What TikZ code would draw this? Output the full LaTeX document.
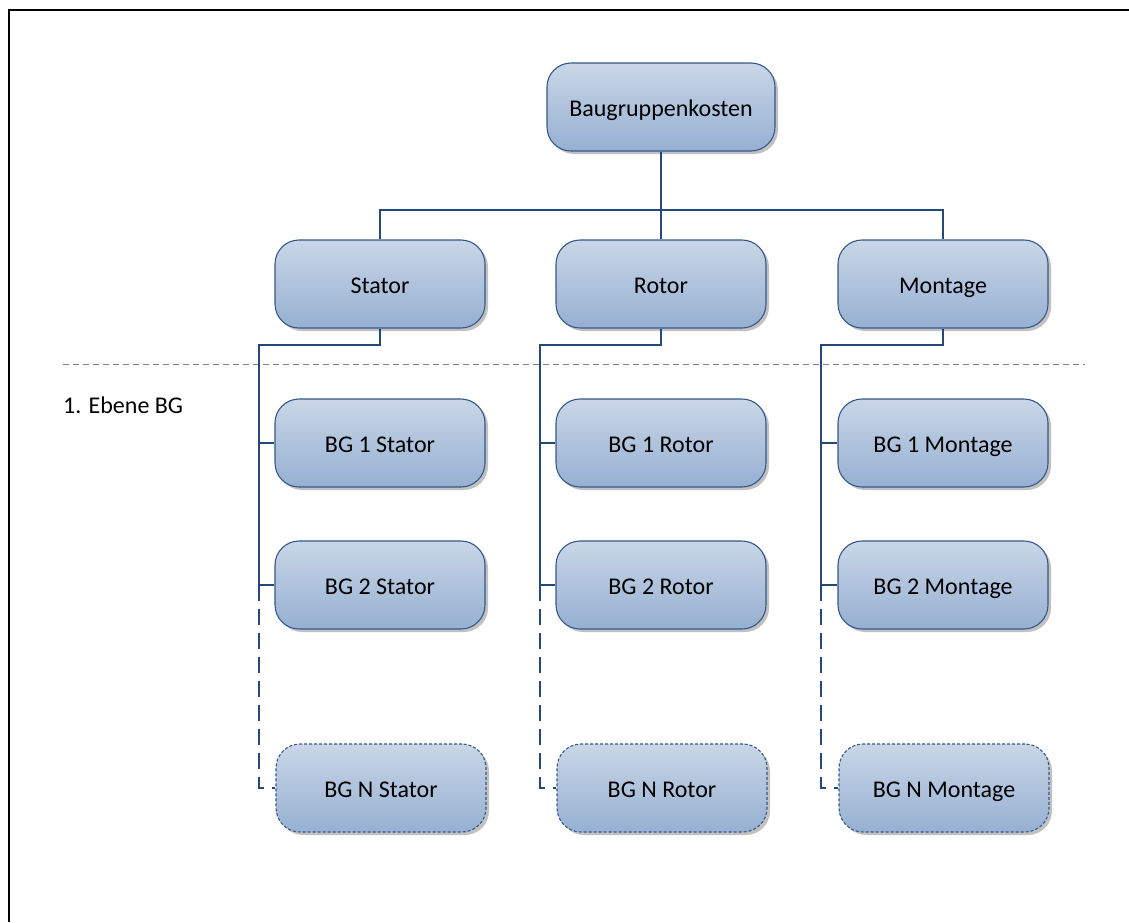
\documentclass[tikz,border=0pt]{standalone}
\usepackage{fontspec}
\setmainfont{Carlito}
\usetikzlibrary{shadows}
\definecolor{boxtop}{RGB}{201,214,231}
\definecolor{boxbot}{RGB}{150,176,210}
\definecolor{boxline}{RGB}{52,88,136}
\definecolor{conn}{RGB}{38,72,120}
\tikzset{
  box/.style={rectangle, rounded corners=24pt, draw=boxline, line width=1.1pt,
    top color=boxtop, bottom color=boxbot, minimum width=210pt, minimum height=88pt,
    font=\fontsize{24}{28}\selectfont, text=black, text height=20pt, text depth=2pt,
    drop shadow={shadow xshift=3pt, shadow yshift=-3pt, fill=black!30, opacity=0.8}},
  dbox/.style={box, dash pattern=on 3pt off 2pt},
  link/.style={draw=conn, line width=1.5pt},
  dlink/.style={link, dash pattern=on 16pt off 8pt},
}
\begin{document}
\begin{tikzpicture}[x=1pt,y=-1pt]
\useasboundingbox (0,0) rectangle (1129,922);
\draw[line width=2pt] (9,922) -- (9,10) -- (1129,10);
\draw[gray, line width=1pt, dash pattern=on 6pt off 4pt] (63,364) -- (1085,364);
\node[anchor=west, font=\fontsize{24}{28}\selectfont, inner sep=0pt] (lvl) at (63,405) {1. Ebene BG};

\node[box, minimum width=228pt] (top) at (661,107) {Baugruppenkosten};
\coordinate (tj) at (661,210);

\node[box] (s) at (380,284) {Stator};
\node[box] (r) at (661,284) {Rotor};
\node[box] (m) at (943,284) {Montage};

\draw[link] (top.south) -- (tj);
\draw[link] (s.north) |- (tj);
\draw[link] (m.north) |- (tj);
\draw[link] (r.north) -- (tj);

\node[box] (s1) at (380,443) {BG 1 Stator};
\node[box] (s2) at (380,585) {BG 2 Stator};
\node[dbox] (sn) at (381,788) {BG N Stator};
\node[box] (r1) at (661,443) {BG 1 Rotor};
\node[box] (r2) at (661,585) {BG 2 Rotor};
\node[dbox] (rn) at (662,788) {BG N Rotor};
\node[box] (m1) at (943,443) {BG 1 Montage};
\node[box] (m2) at (943,585) {BG 2 Montage};
\node[dbox] (mn) at (944,788) {BG N Montage};

\coordinate (sj) at (259,345);
\coordinate (rj) at (540,345);
\coordinate (mj) at (821,345);

\draw[link] (s.south) |- (sj) |- (s1.west);
\draw[link] (sj) |- (s2.west);
\draw[dlink] (sj |- s2.west) |- (sn.west);
\draw[link] (r.south) |- (rj) |- (r1.west);
\draw[link] (rj) |- (r2.west);
\draw[dlink] (rj |- r2.west) |- (rn.west);
\draw[link] (m.south) |- (mj) |- (m1.west);
\draw[link] (mj) |- (m2.west);
\draw[dlink] (mj |- m2.west) |- (mn.west);
\end{tikzpicture}
\end{document}
